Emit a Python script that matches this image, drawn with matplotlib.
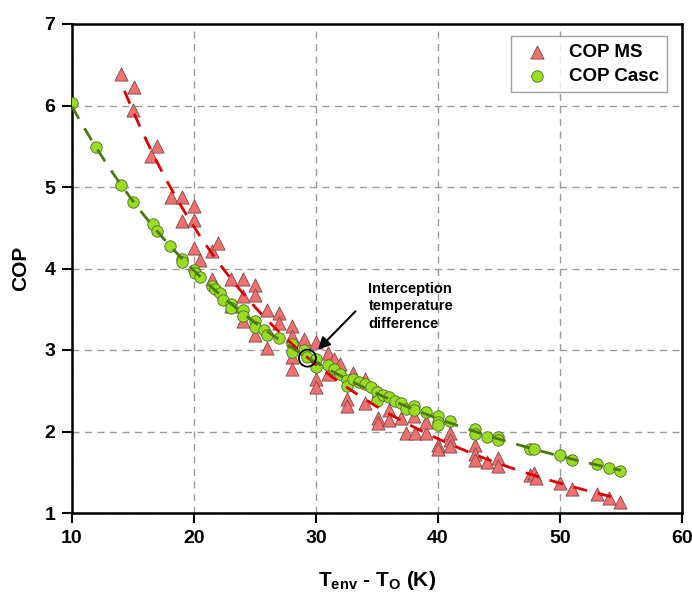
import numpy as np
import matplotlib
matplotlib.use("Agg")
import matplotlib.pyplot as plt

plt.rcParams['font.family'] = ['Liberation Sans', 'DejaVu Sans']
plt.rcParams['mathtext.fontset'] = 'custom'
plt.rcParams['mathtext.bf'] = 'Liberation Sans:bold'
plt.rcParams['mathtext.rm'] = 'Liberation Sans'

# COP of the multi-stage (MS) system
ms_dt = [14.0, 15.1, 15.0, 17.0, 16.5, 18.1, 19.0, 19.0, 20.0, 20.0, 20.0, 20.5, 21.5, 22.0,
         21.5, 23.0, 24.0, 25.0, 25.0, 24.0, 23.0, 24.0, 25.0, 26.0, 27.0, 27.0, 26.0, 28.0,
         28.0, 28.0, 28.0, 29.0, 30.0, 30.0, 30.0, 31.0, 31.0, 31.5, 32.0, 32.5, 32.5, 33.0,
         34.0, 34.0, 35.1, 35.1, 35.1, 36.0, 36.0, 37.0, 37.4, 38.1, 38.0, 39.0, 39.0, 40.0,
         40.0, 41.0, 41.0, 41.0, 43.0, 43.0, 43.0, 44.0, 44.9, 44.9, 47.5, 47.9, 48.0, 50.0,
         51.0, 53.0, 54.0, 54.9]
ms_cop = [6.39, 6.23, 5.94, 5.50, 5.38, 4.88, 4.88, 4.58, 4.77, 4.60, 4.25, 4.11, 4.21, 4.31,
          3.87, 3.87, 3.87, 3.80, 3.68, 3.66, 3.54, 3.35, 3.19, 3.49, 3.45, 3.33, 3.03, 3.29,
          3.17, 2.91, 2.77, 3.14, 3.10, 2.65, 2.54, 2.96, 2.70, 2.89, 2.83, 2.40, 2.31, 2.72,
          2.35, 2.65, 2.17, 2.10, 2.49, 2.26, 2.14, 2.17, 1.98, 1.98, 2.19, 1.98, 2.12, 1.84,
          1.79, 1.98, 1.89, 1.82, 1.84, 1.72, 1.65, 1.63, 1.68, 1.58, 1.47, 1.49, 1.43, 1.37,
          1.30, 1.23, 1.19, 1.14]

# COP of the cascade system
casc_dt = [10.0, 12.0, 14.0, 15.0, 16.6, 17.0, 18.0, 19.0, 19.0, 20.0, 20.1, 20.5, 21.5, 21.7,
           22.1, 22.4, 23.0, 23.0, 24.0, 24.0, 25.0, 25.0, 25.7, 26.0, 27.0, 28.0, 28.0, 29.0,
           29.3, 30.0, 30.0, 31.0, 31.5, 32.0, 32.5, 32.5, 33.0, 33.5, 34.0, 34.5, 35.0, 35.0,
           35.5, 36.0, 36.5, 37.0, 37.4, 38.0, 38.0, 39.0, 40.0, 40.0, 40.0, 41.0, 43.0, 43.0,
           44.0, 44.9, 44.9, 47.5, 47.9, 50.0, 51.0, 53.0, 54.0, 54.9]
casc_cop = [6.03, 5.49, 5.02, 4.82, 4.54, 4.46, 4.27, 4.12, 4.08, 3.98, 3.94, 3.89, 3.79, 3.75,
            3.70, 3.61, 3.56, 3.52, 3.49, 3.42, 3.35, 3.28, 3.24, 3.19, 3.15, 3.07, 2.98, 3.00,
            2.91, 2.89, 2.79, 2.82, 2.77, 2.70, 2.63, 2.56, 2.65, 2.61, 2.58, 2.54, 2.49, 2.38,
            2.45, 2.42, 2.38, 2.35, 2.27, 2.31, 2.26, 2.24, 2.19, 2.12, 2.08, 2.13, 2.03, 1.97,
            1.93, 1.93, 1.90, 1.79, 1.79, 1.71, 1.65, 1.60, 1.55, 1.51]

# Trend-line ranges and interception point
ms_fit_range = [14.3, 54.2]
casc_fit_range = [10.0, 55.0]
intercept_pt = [29.3, 2.90]

x_ticks = [10, 20, 30, 40, 50, 60]
y_ticks = [1, 2, 3, 4, 5, 6, 7]

fig = plt.figure(figsize=(6.92, 5.97), dpi=100)
ax = fig.add_axes([72/692, 1-513/597, (682-72)/692, (513-24)/597])

ax.grid(True, color='#9a9a9a', linestyle=(0, (5, 4)), linewidth=1.0, zorder=0)

ax.scatter(ms_dt, ms_cop, marker='^', s=90, facecolor='#F07070', edgecolor='#7a4a4a',
           linewidths=0.6, zorder=3, label='COP MS')
ax.scatter(casc_dt, casc_cop, marker='o', s=68, facecolor='#99DD22', edgecolor='#4f6a2a',
           linewidths=0.6, zorder=4, label='COP Casc')

def trend(xs, ys, rng):
    c = np.polyfit(np.log(xs), np.log(ys), 2)
    xx = np.linspace(rng[0], rng[1], 200)
    return xx, np.exp(np.polyval(c, np.log(xx)))

xx, yy = trend(ms_dt, ms_cop, ms_fit_range)
ax.plot(xx, yy, color='#DD0000', linestyle=(0, (5, 4)), linewidth=2.0, zorder=5)
xx, yy = trend(casc_dt, casc_cop, casc_fit_range)
ax.plot(xx, yy, color='#4B7A12', linestyle=(0, (5, 4)), linewidth=2.0, zorder=5)

ax.scatter([intercept_pt[0]], [intercept_pt[1]], marker='o', s=150, facecolor='none',
           edgecolor='black', linewidths=1.3, zorder=6)

ax.annotate('', xy=(30.0, 2.98), xytext=(33.4, 3.50),
            arrowprops=dict(arrowstyle='-|>', color='black', lw=1.5, mutation_scale=18),
            zorder=7)
ax.text(34.3, 3.84, 'Interception\ntemperature\ndifference', fontsize=10.5,
        fontweight='bold', ha='left', va='top', linespacing=1.35, zorder=7)

ax.set_xlim(10, 60)
ax.set_ylim(1, 7)
ax.set_xticks(x_ticks)
ax.set_yticks(y_ticks)
ax.tick_params(direction='out', length=7, width=1.5, labelsize=14, pad=5)
for lab in ax.get_xticklabels() + ax.get_yticklabels():
    lab.set_fontweight('bold')
for sp in ax.spines.values():
    sp.set_linewidth(1.8)
    sp.set_color('black')

ax.set_xlabel(r'T$_{\mathbf{env}}$ - T$_{\mathbf{O}}$ (K)', fontsize=15, fontweight='bold', labelpad=16)
ax.set_ylabel('COP', fontsize=15, fontweight='bold', labelpad=10)

leg = ax.legend(loc='upper right', bbox_to_anchor=(0.975, 0.975),
                prop={'weight': 'bold', 'size': 13.5}, frameon=True, fancybox=False,
                edgecolor='#888888', handletextpad=0.7, handlelength=2.0,
                borderpad=0.4, labelspacing=0.35, borderaxespad=0.0)
leg.get_frame().set_linewidth(1.0)

fig.savefig('out.png', dpi=100)
